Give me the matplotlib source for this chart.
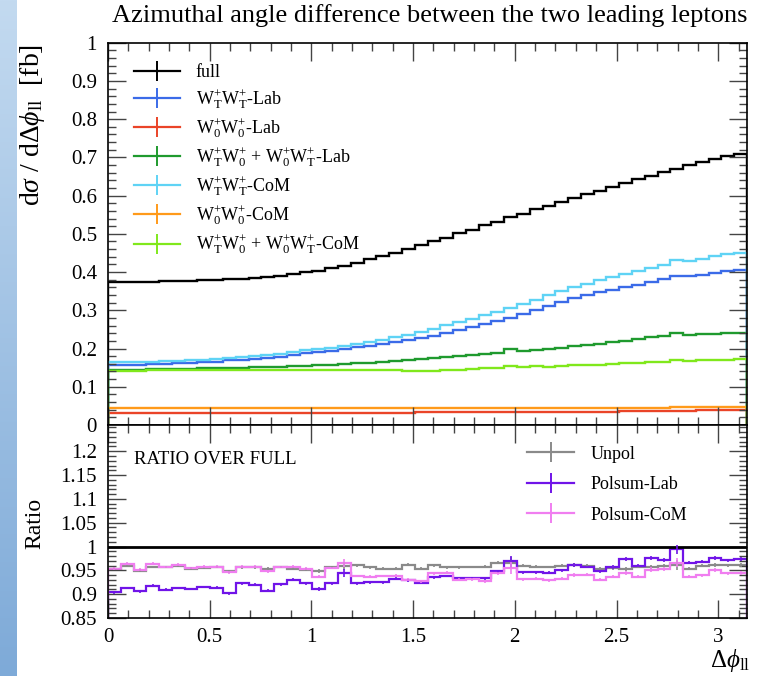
import numpy as np
import matplotlib
matplotlib.use("Agg")
import matplotlib.pyplot as plt
from matplotlib.lines import Line2D
from matplotlib.ticker import MultipleLocator, FuncFormatter

plt.rcParams['font.family'] = ['Liberation Serif', 'DejaVu Serif']
plt.rcParams['mathtext.fontset'] = 'custom'
plt.rcParams['mathtext.rm'] = 'Liberation Serif'
plt.rcParams['mathtext.it'] = 'Liberation Serif:italic'

# binning: 50 bins on [0, pi]
edges = np.linspace(0, np.pi, 51)
centers = 0.5 * (edges[1:] + edges[:-1])

# ---- main panel: d sigma / d dphi_ll [fb]
full = [0.374, 0.374, 0.375, 0.375, 0.376, 0.376, 0.377, 0.378, 0.379, 0.381,
        0.383, 0.385, 0.388, 0.391, 0.395, 0.399, 0.404, 0.410, 0.417, 0.424,
        0.433, 0.441, 0.451, 0.460, 0.470, 0.480, 0.490, 0.501, 0.511, 0.522,
        0.532, 0.543, 0.553, 0.564, 0.574, 0.584, 0.593, 0.603, 0.613, 0.623,
        0.633, 0.643, 0.652, 0.661, 0.670, 0.679, 0.688, 0.696, 0.703, 0.710]
tt_lab = [0.157, 0.158, 0.158, 0.159, 0.160, 0.161, 0.163, 0.164, 0.166, 0.169,
          0.171, 0.173, 0.176, 0.179, 0.183, 0.188, 0.190, 0.194, 0.198, 0.203,
          0.207, 0.212, 0.217, 0.222, 0.228, 0.234, 0.241, 0.249, 0.257, 0.265,
          0.273, 0.281, 0.291, 0.301, 0.311, 0.321, 0.331, 0.340, 0.347, 0.354,
          0.360, 0.367, 0.374, 0.381, 0.391, 0.389, 0.393, 0.397, 0.402, 0.405]
oo_lab = [0.031, 0.031, 0.031, 0.031, 0.031, 0.031, 0.031, 0.031, 0.031, 0.031,
          0.031, 0.031, 0.032, 0.032, 0.032, 0.032, 0.032, 0.032, 0.032, 0.032,
          0.032, 0.032, 0.032, 0.032, 0.033, 0.033, 0.033, 0.033, 0.033, 0.033,
          0.034, 0.034, 0.034, 0.034, 0.034, 0.035, 0.035, 0.035, 0.035, 0.035,
          0.036, 0.036, 0.036, 0.037, 0.037, 0.037, 0.038, 0.038, 0.038, 0.039]
to_lab = [0.144, 0.145, 0.145, 0.146, 0.146, 0.147, 0.147, 0.148, 0.149, 0.150,
          0.150, 0.151, 0.152, 0.153, 0.154, 0.155, 0.157, 0.158, 0.160, 0.161,
          0.163, 0.166, 0.168, 0.170, 0.172, 0.174, 0.177, 0.180, 0.183, 0.186,
          0.189, 0.199, 0.193, 0.196, 0.199, 0.202, 0.206, 0.209, 0.213, 0.217,
          0.221, 0.225, 0.229, 0.232, 0.240, 0.236, 0.238, 0.239, 0.240, 0.241]
tt_com = [0.164, 0.164, 0.165, 0.166, 0.167, 0.168, 0.170, 0.171, 0.173, 0.175,
          0.177, 0.180, 0.183, 0.186, 0.190, 0.195, 0.198, 0.202, 0.207, 0.212,
          0.217, 0.222, 0.229, 0.236, 0.243, 0.251, 0.261, 0.269, 0.278, 0.287,
          0.296, 0.306, 0.317, 0.328, 0.339, 0.350, 0.361, 0.370, 0.378, 0.386,
          0.394, 0.402, 0.410, 0.418, 0.432, 0.429, 0.435, 0.441, 0.446, 0.449]
oo_com = [0.045, 0.045, 0.045, 0.045, 0.045, 0.045, 0.045, 0.045, 0.045, 0.045,
          0.045, 0.045, 0.045, 0.045, 0.045, 0.045, 0.045, 0.045, 0.045, 0.045,
          0.045, 0.045, 0.045, 0.045, 0.044, 0.044, 0.044, 0.044, 0.044, 0.044,
          0.044, 0.045, 0.045, 0.045, 0.045, 0.045, 0.045, 0.045, 0.045, 0.045,
          0.045, 0.045, 0.045, 0.045, 0.046, 0.046, 0.046, 0.046, 0.046, 0.046]
to_com = [0.142, 0.142, 0.142, 0.143, 0.143, 0.143, 0.143, 0.144, 0.144, 0.144,
          0.144, 0.144, 0.145, 0.145, 0.145, 0.145, 0.144, 0.144, 0.145, 0.145,
          0.145, 0.143, 0.143, 0.142, 0.142, 0.142, 0.143, 0.144, 0.146, 0.148,
          0.150, 0.154, 0.151, 0.154, 0.153, 0.155, 0.156, 0.157, 0.158, 0.160,
          0.161, 0.163, 0.164, 0.166, 0.171, 0.168, 0.169, 0.170, 0.171, 0.172]

# ---- ratio panel: over full
unpol = [0.953, 0.959, 0.949, 0.957, 0.957, 0.959, 0.953, 0.955, 0.957, 0.948,
         0.956, 0.956, 0.953, 0.957, 0.953, 0.951, 0.949, 0.957, 0.959, 0.961,
         0.956, 0.953, 0.953, 0.962, 0.953, 0.961, 0.956, 0.956, 0.957, 0.958,
         0.966, 0.966, 0.960, 0.958, 0.957, 0.960, 0.961, 0.960, 0.953, 0.955,
         0.953, 0.957, 0.957, 0.960, 0.961, 0.953, 0.960, 0.961, 0.961, 0.962]
polsum_lab = [0.904, 0.913, 0.906, 0.918, 0.909, 0.913, 0.911, 0.915, 0.914, 0.902,
              0.923, 0.920, 0.907, 0.921, 0.930, 0.923, 0.911, 0.923, 0.944, 0.923,
              0.925, 0.925, 0.932, 0.929, 0.924, 0.935, 0.938, 0.934, 0.934, 0.933,
              0.948, 0.969, 0.946, 0.946, 0.945, 0.950, 0.962, 0.957, 0.948, 0.957,
              0.973, 0.960, 0.976, 0.971, 0.994, 0.966, 0.968, 0.976, 0.971, 0.973]
polsum_com = [0.953, 0.964, 0.951, 0.964, 0.957, 0.962, 0.955, 0.958, 0.958, 0.946,
              0.958, 0.958, 0.948, 0.957, 0.958, 0.953, 0.937, 0.955, 0.966, 0.938,
              0.937, 0.938, 0.939, 0.930, 0.927, 0.944, 0.945, 0.930, 0.931, 0.927,
              0.944, 0.955, 0.931, 0.932, 0.929, 0.932, 0.941, 0.941, 0.930, 0.937,
              0.944, 0.937, 0.951, 0.953, 0.966, 0.937, 0.940, 0.951, 0.944, 0.945]
ratio_err = [0.003, 0.003, 0.003, 0.003, 0.003, 0.003, 0.003, 0.003, 0.003, 0.003,
             0.003, 0.003, 0.003, 0.003, 0.003, 0.003, 0.004, 0.003, 0.008, 0.003,
             0.003, 0.003, 0.003, 0.003, 0.003, 0.003, 0.003, 0.003, 0.003, 0.003,
             0.003, 0.012, 0.003, 0.003, 0.003, 0.003, 0.004, 0.003, 0.003, 0.004,
             0.004, 0.003, 0.005, 0.004, 0.010, 0.003, 0.003, 0.004, 0.003, 0.004]

main_series = [
    (full, 'black', 'full'),
    (tt_lab, '#3b6be8', r'W$_{\mathrm{T}}^{+}$W$_{\mathrm{T}}^{+}$-Lab'),
    (oo_lab, '#ea4428', r'W$_{0}^{+}$W$_{0}^{+}$-Lab'),
    (to_lab, '#1f9a2e', r'W$_{\mathrm{T}}^{+}$W$_{0}^{+}$ + W$_{0}^{+}$W$_{\mathrm{T}}^{+}$-Lab'),
    (tt_com, '#5fd3f5', r'W$_{\mathrm{T}}^{+}$W$_{\mathrm{T}}^{+}$-CoM'),
    (oo_com, '#ff9a1a', r'W$_{0}^{+}$W$_{0}^{+}$-CoM'),
    (to_com, '#80e81c', r'W$_{\mathrm{T}}^{+}$W$_{0}^{+}$ + W$_{0}^{+}$W$_{\mathrm{T}}^{+}$-CoM'),
]
ratio_series = [
    (unpol, '#8a8a8a', 'Unpol'),
    (polsum_lab, '#7014e8', 'Polsum-Lab'),
    (polsum_com, '#f07ef0', 'Polsum-CoM'),
]

fig = plt.figure(figsize=(7.63, 6.76), dpi=100)

# slide background strip on the left
strip = fig.add_axes([0, 0, 17 / 763, 1])
grad = np.linspace(0, 1, 256).reshape(-1, 1)
cmap = matplotlib.colors.LinearSegmentedColormap.from_list('bg', ['#c3daf0', '#7eaad8'])
strip.imshow(grad, aspect='auto', cmap=cmap, extent=[0, 1, 0, 1], origin='upper')
strip.axis('off')

ax = fig.add_axes([108 / 763, 1 - 425 / 676, 639 / 763, (425 - 42.7) / 676])
rax = fig.add_axes([108 / 763, 1 - 618 / 676, 639 / 763, (618 - 425) / 676], sharex=ax)

for vals, col, lab in main_series:
    ax.stairs(vals, edges, color=col, lw=1.7)

handles = [Line2D([], [], color=c, lw=1.6, marker='|', markersize=15, markeredgewidth=1.4)
           for _, c, _ in main_series]
ax.legend(handles, [l for _, _, l in main_series], loc='upper left',
          bbox_to_anchor=(0.03, 0.962), frameon=False, fontsize=13,
          handlelength=2.5, handletextpad=0.9, labelspacing=0.3, borderaxespad=0)

rax.axhline(1.0, color='black', lw=2)
for vals, col, lab in ratio_series:
    rax.stairs(vals, edges, color=col, lw=1.6)
    rax.errorbar(centers, vals, yerr=ratio_err, fmt='none', ecolor=col, elinewidth=1.2)

rhandles = [Line2D([], [], color=c, lw=1.6, marker='|', markersize=15, markeredgewidth=1.4)
            for _, c, _ in ratio_series]
rax.legend(rhandles, [l for _, _, l in ratio_series], loc='upper left',
           bbox_to_anchor=(0.645, 0.93), frameon=False, fontsize=13,
           handlelength=2.6, handletextpad=0.9, labelspacing=0.75, borderaxespad=0)
rax.text(0.04, 0.82, 'RATIO OVER FULL', transform=rax.transAxes, fontsize=13.5,
         va='center', ha='left')

fmt = FuncFormatter(lambda v, p: '%g' % round(v, 4))
ax.yaxis.set_major_locator(MultipleLocator(0.1))
ax.yaxis.set_minor_locator(MultipleLocator(0.02))
ax.yaxis.set_major_formatter(fmt)
rax.yaxis.set_major_locator(MultipleLocator(0.05))
rax.yaxis.set_minor_locator(MultipleLocator(0.01))
rax.yaxis.set_major_formatter(fmt)
rax.xaxis.set_major_locator(MultipleLocator(0.5))
rax.xaxis.set_minor_locator(MultipleLocator(0.1))
rax.xaxis.set_major_formatter(fmt)

for a in (ax, rax):
    a.tick_params(which='both', direction='in', top=True, right=True, color='#444444',
                  labelsize=15)
    a.tick_params(which='major', length=13, width=1)
    a.tick_params(which='minor', length=6, width=1)
    a.tick_params(axis='y', pad=8)
    for s in a.spines.values():
        s.set_linewidth(1.2)
ax.tick_params(labelbottom=False)
rax.set_yticks([0.85, 0.9, 0.95, 1.0, 1.05, 1.1, 1.15, 1.2])
rax.tick_params(axis='x', pad=7)
ax.set_xlim(0, np.pi)
ax.set_ylim(0, 1)
rax.set_ylim(0.85, 1.255)

fig.text(0.5635, 1 - 16 / 676, 'Azimuthal angle difference between the two leading leptons',
         ha='center', va='center', fontsize=19)
fig.text(33 / 763, 1 - 44 / 676, r'd$\sigma$ / d$\Delta\phi_{\mathrm{ll}}$  [fb]',
         rotation=90, ha='center', va='top', fontsize=20)
fig.text(35 / 763, 1 - 523 / 676, 'Ratio', rotation=90, ha='center', va='center', fontsize=17)
fig.text(750 / 763, 1 - 660 / 676, r'$\Delta\phi_{\mathrm{ll}}$', ha='right', va='center',
         fontsize=18)

fig.savefig('out.png', dpi=100)
